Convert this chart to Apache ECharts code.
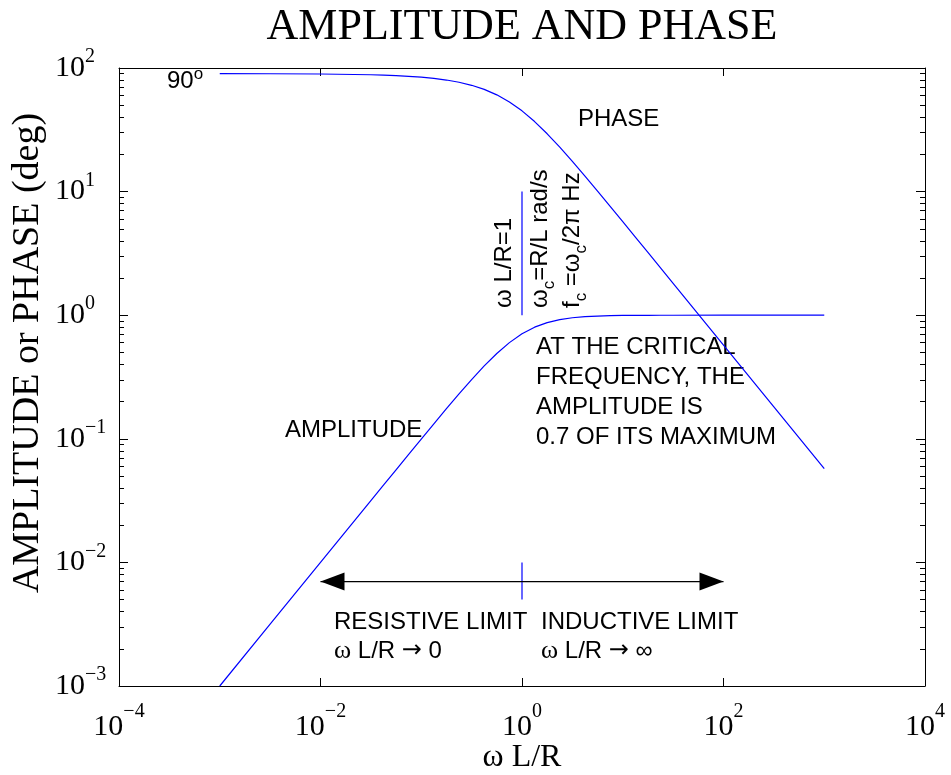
<!DOCTYPE html>
<html><head><meta charset="utf-8">
<script src="https://cdn.jsdelivr.net/npm/echarts@6/dist/echarts.min.js"></script>
<style>html,body{margin:0;padding:0;background:#fff}#c{width:951px;height:775px}</style>
</head><body><div id="c"></div>
<script>
// ---- data ----
const omegaLR = [0.001, 0.003162, 0.01, 0.03162, 0.04217, 0.05623, 0.07499, 0.1, 0.1334, 0.1778, 0.2371, 0.3162, 0.4217, 0.5623, 0.7499, 1, 1.334, 1.778, 2.371, 3.162, 4.217, 5.623, 7.499, 10, 13.34, 17.78, 23.71, 31.62, 100, 316.2, 1000];
const amplitude = [0.001, 0.003162, 0.01, 0.03161, 0.04213, 0.05614, 0.07478, 0.0995, 0.1322, 0.1751, 0.2307, 0.3015, 0.3886, 0.4901, 0.5999, 0.7071, 0.8001, 0.8716, 0.9214, 0.9535, 0.973, 0.9846, 0.9912, 0.995, 0.9972, 0.9984, 0.9991, 0.9995, 1.0, 1.0, 1.0];
const phaseDeg = [89.94, 89.82, 89.43, 88.19, 87.59, 86.78, 85.71, 84.29, 82.4, 79.92, 76.66, 72.45, 67.11, 60.65, 53.13, 45, 36.86, 29.35, 22.87, 17.55, 13.34, 10.08, 7.6, 5.71, 4.287, 3.219, 2.415, 1.811, 0.573, 0.1812, 0.0573];
const cutoffX = [1, 1];
const cutoffY = [1, 10];
const limitTickX = [1, 1];
const limitTickY = [0.005, 0.01];
const arrowX = [0.01, 100];
const arrowY = [0.007, 0.007];
const xTickLabels = [1e-4, 1e-2, 1, 1e2, 1e4];
const xTickMarks = [1e-2, 1, 1e2];
const yTickLabels = [1e-3, 1e-2, 1e-1, 1, 10, 100];
const yMinorTicks = [];
[-3, -2, -1, 0, 1].forEach(k => { for (let m = 2; m <= 9; m++) yMinorTicks.push(m * Math.pow(10, k)); });

const SERIF = '"Liberation Serif","Times New Roman",serif';
const SANS = '"Liberation Sans",Arial,Helvetica,sans-serif';
const BLUE = '#0000ff';

const chart = echarts.init(document.getElementById('c'));
const pairs = (xs, ys) => xs.map((x, i) => [x, ys[i]]);
const powLabel = v => { const e = Math.round(Math.log10(v)); return '{b|10}{s|' + (e < 0 ? '\u2212' + (-e) : String(e)) + '}'; };

const xRich = { b: { fontFamily: SERIF, fontSize: 30, lineHeight: 34, color: '#000' },
                s: { fontFamily: SERIF, fontSize: 20, lineHeight: 20, color: '#000', padding: [0, 0, 30, 0] } };
const yRich = { b: { fontFamily: SERIF, fontSize: 30, lineHeight: 34, color: '#000' },
                s: { fontFamily: SERIF, fontSize: 20, lineHeight: 20, color: '#000', padding: [0, 0, 22, 0] } };

const baseX = pos => ({ type: 'log', logBase: 10, min: 1e-4, max: 1e4, position: pos, gridIndex: 0,
  axisLine: { show: true, onZero: false, lineStyle: { color: '#000', width: 1 } },
  axisTick: { show: true, inside: true, length: 8, customValues: xTickMarks, lineStyle: { color: '#000', width: 1 } },
  axisLabel: { show: false }, splitLine: { show: false }, minorTick: { show: false } });
const baseY = (pos, major) => ({ type: 'log', logBase: 10, min: 1e-3, max: 1e2, position: pos, gridIndex: 0,
  axisLine: { show: major, onZero: false, lineStyle: { color: '#000', width: 1 } },
  axisTick: major ? { show: true, inside: true, length: 9, customValues: yTickLabels, lineStyle: { color: '#000', width: 1 } }
                  : { show: true, inside: true, length: 5, customValues: yMinorTicks, lineStyle: { color: '#000', width: 1 } },
  axisLabel: { show: false }, splitLine: { show: false }, minorTick: { show: false } });

const xBottom = baseX('bottom');
xBottom.axisLabel = { show: true, customValues: xTickLabels, margin: 24, formatter: powLabel, rich: xRich };
xBottom.name = '\u03c9 L/R';
xBottom.nameLocation = 'middle';
xBottom.nameGap = 56;
xBottom.nameMoveOverlap = false;
xBottom.nameTextStyle = { fontFamily: SERIF, fontSize: 32, color: '#000' };

const yLeft = baseY('left', true);
yLeft.axisLabel = { show: true, customValues: yTickLabels, align: 'left', margin: 64, formatter: powLabel, rich: yRich };
yLeft.name = 'AMPLITUDE or PHASE (deg)';
yLeft.nameLocation = 'middle';
yLeft.nameGap = 72;
yLeft.nameMoveOverlap = false;
yLeft.nameTextStyle = { fontFamily: SERIF, fontSize: 38, color: '#000', padding: [0, 0, 0, 48] };

const lineS = (name, data, color) => ({ name, type: 'line', xAxisIndex: 0, yAxisIndex: 0, data, symbol: 'none',
  showSymbol: false, lineStyle: { color, width: 1.2 }, itemStyle: { color }, silent: true });

chart.setOption({
  animation: false,
  backgroundColor: '#fff',
  grid: { left: 119, top: 68, right: 26, bottom: 89, containLabel: false, outerBoundsMode: 'none' },
  xAxis: [xBottom, baseX('top')],
  yAxis: [yLeft, baseY('right', true), baseY('left', false), baseY('right', false)],
  series: [
    lineS('AMPLITUDE', pairs(omegaLR, amplitude), BLUE),
    lineS('PHASE', pairs(omegaLR, phaseDeg), BLUE),
    lineS('cutoff', pairs(cutoffX, cutoffY), BLUE),
    lineS('limit tick', pairs(limitTickX, limitTickY), BLUE),
    lineS('limits', pairs(arrowX, arrowY), '#000')
  ]
});

// ---- annotations ----
const px = (x, y) => chart.convertToPixel({ xAxisIndex: 0, yAxisIndex: 0 }, [x, y]);
const T = (x, y, text, extra) => ({ type: 'text', x, y, silent: true,
  style: Object.assign({ text, fill: '#000', fontFamily: SANS, fontSize: 24, align: 'left', verticalAlign: 'middle' }, extra || {}) });
const subRich = { b: { fontFamily: SANS, fontSize: 24, fill: '#000', color: '#000' },
                  s: { fontFamily: SANS, fontSize: 17, fill: '#000', color: '#000', padding: [18, 0, 0, 0] } };
const limRich = { w: { fontFamily: SERIF, fontSize: 26, fill: '#000' },
                  t: { fontFamily: SANS, fontSize: 24, fill: '#000' },
                  a: { fontFamily: '"DejaVu Sans",sans-serif', fontSize: 24, fill: '#000' } };

const L = px(arrowX[0], arrowY[0]);
const R = px(arrowX[1], arrowY[1]);
const hl = 24, hw = 9;

chart.setOption({
  graphic: [
    T(522, 27, 'AMPLITUDE AND PHASE', { fontFamily: SERIF, fontSize: 44, align: 'center' }),
    T(167, 81, '{a|90}{o|o}', { rich: { a: { fontFamily: SANS, fontSize: 24, fill: '#000' }, o: { fontFamily: SANS, fontSize: 17, fill: '#000', padding: [0, 0, 14, 0] } } }),
    T(578, 119, 'PHASE'),
    T(285, 430, 'AMPLITUDE'),
    T(536, 332, 'AT THE CRITICAL\nFREQUENCY, THE\nAMPLITUDE IS\n0.7 OF ITS MAXIMUM', { verticalAlign: 'top', lineHeight: 30 }),
    T(334, 622, 'RESISTIVE LIMIT'),
    T(334, 651, '{w|\u03c9}{t| L/R }{a|\u2192}{t| 0}', { rich: limRich }),
    T(541, 622, 'INDUCTIVE LIMIT'),
    T(541, 651, '{w|\u03c9}{t| L/R }{a|\u2192}{t| \u221e}', { rich: limRich }),
    Object.assign(T(504, 308, '\u03c9 L/R=1'), { rotation: Math.PI / 2 }),
    Object.assign(T(540, 308, '{b|\u03c9}{s|c}{b|=R/L rad/s}', { rich: subRich }), { rotation: Math.PI / 2 }),
    Object.assign(T(572, 308, '{b|f}{s|c}{b| =\u03c9}{s|c}{b|/2\u03c0 Hz}', { rich: subRich }), { rotation: Math.PI / 2 }),
    { type: 'polygon', silent: true, shape: { points: [[L[0], L[1]], [L[0] + hl, L[1] - hw], [L[0] + hl, L[1] + hw]] }, style: { fill: '#000' } },
    { type: 'polygon', silent: true, shape: { points: [[R[0], R[1]], [R[0] - hl, R[1] - hw], [R[0] - hl, R[1] + hw]] }, style: { fill: '#000' } }
  ]
});
</script>
</body></html>
